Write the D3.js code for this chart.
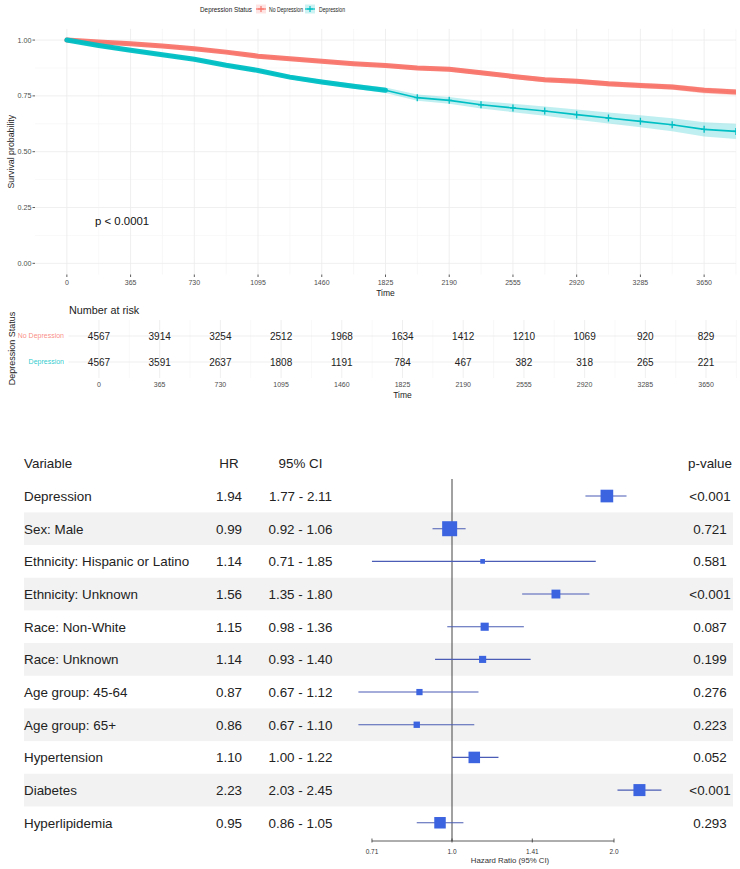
<!DOCTYPE html>
<html><head><meta charset="utf-8">
<script src="https://cdn.jsdelivr.net/npm/d3@7"></script>
<style>body{margin:0;background:#fff;} svg{display:block;font-family:"Liberation Sans",Arial,sans-serif;}</style>
</head><body><svg id="c" width="740" height="869"></svg>
<script>
// ---------- Kaplan-Meier data ----------
const groups = ["No Depression", "Depression"];
const groupColors = ["#F8766D", "#00BFC4"];
const times      = [0, 182, 365, 547, 730, 912, 1095, 1277, 1460, 1642, 1825, 2007, 2190, 2372, 2555, 2737, 2920, 3102, 3285, 3467, 3650, 3832];
const survNoDep  = [1.0, 0.991, 0.983, 0.973, 0.961, 0.946, 0.928, 0.916, 0.905, 0.894, 0.886, 0.875, 0.869, 0.854, 0.837, 0.822, 0.815, 0.804, 0.797, 0.790, 0.775, 0.767];
const lowerNoDep = [1.0, 0.988, 0.979, 0.968, 0.955, 0.940, 0.921, 0.909, 0.897, 0.886, 0.877, 0.866, 0.859, 0.844, 0.826, 0.811, 0.803, 0.792, 0.784, 0.777, 0.761, 0.753];
const upperNoDep = [1.0, 0.994, 0.986, 0.977, 0.966, 0.951, 0.934, 0.922, 0.912, 0.901, 0.894, 0.883, 0.878, 0.863, 0.847, 0.832, 0.826, 0.815, 0.809, 0.802, 0.788, 0.780];
const survDep    = [1.0, 0.976, 0.954, 0.934, 0.914, 0.887, 0.864, 0.834, 0.812, 0.793, 0.775, 0.742, 0.730, 0.710, 0.696, 0.682, 0.666, 0.651, 0.636, 0.621, 0.600, 0.591];
const lowerDep   = [1.0, 0.973, 0.950, 0.929, 0.908, 0.880, 0.856, 0.825, 0.802, 0.782, 0.763, 0.728, 0.715, 0.693, 0.677, 0.661, 0.643, 0.626, 0.609, 0.592, 0.568, 0.557];
const upperDep   = [1.0, 0.979, 0.958, 0.939, 0.920, 0.894, 0.872, 0.843, 0.822, 0.804, 0.787, 0.756, 0.745, 0.727, 0.715, 0.703, 0.689, 0.676, 0.663, 0.650, 0.632, 0.625];
const timeTicks  = [0, 365, 730, 1095, 1460, 1825, 2190, 2555, 2920, 3285, 3650];
const survTicks  = [0, 0.25, 0.5, 0.75, 1.0];
const survTickLabels = ["0.00", "0.25", "0.50", "0.75", "1.00"];
const riskNoDep  = [4567, 3914, 3254, 2512, 1968, 1634, 1412, 1210, 1069, 920, 829];
const riskDep    = [4567, 3591, 2637, 1808, 1191, 784, 467, 382, 318, 265, 221];
const pValueText = "p < 0.0001";

// ---------- Forest plot data ----------
const variables = ["Depression", "Sex: Male", "Ethnicity: Hispanic or Latino", "Ethnicity: Unknown", "Race: Non-White", "Race: Unknown", "Age group: 45-64", "Age group: 65+", "Hypertension", "Diabetes", "Hyperlipidemia"];
const hr      = [1.94, 0.99, 1.14, 1.56, 1.15, 1.14, 0.87, 0.86, 1.10, 2.23, 0.95];
const ciLow   = [1.77, 0.92, 0.71, 1.35, 0.98, 0.93, 0.67, 0.67, 1.00, 2.03, 0.86];
const ciHigh  = [2.11, 1.06, 1.85, 1.80, 1.36, 1.40, 1.12, 1.10, 1.22, 2.45, 1.05];
const pValues = ["<0.001", "0.721", "0.581", "<0.001", "0.087", "0.199", "0.276", "0.223", "0.052", "<0.001", "0.293"];
const hrTicks = [0.71, 1.0, 1.41, 2.0];
const hrTickLabels = ["0.71", "1.0", "1.41", "2.0"];

// ---------- setup ----------
const svg = d3.select("#c");
const kmSeries = [
  {name: groups[0], color: groupColors[0], surv: survNoDep, lo: lowerNoDep, hi: upperNoDep, denseUntil: 3900},
  {name: groups[1], color: groupColors[1], surv: survDep, lo: lowerDep, hi: upperDep, denseUntil: 1900}
];

const x = d3.scaleLinear().domain([-182.5, 3832.5]).range([35, 736]);
const y = d3.scaleLinear().domain([-0.05, 1.05]).range([274.5, 28.9]);
const gridMajor = "#ebebeb", gridMinor = "#f4f4f4";

// panel grid
const km = svg.append("g");
const halfStep = 182.5;
km.selectAll(".vmin").data(timeTicks).join("line")
  .attr("x1", d => x(d + halfStep)).attr("x2", d => x(d + halfStep))
  .attr("y1", y.range()[0]).attr("y2", y.range()[1]).attr("stroke", gridMinor).attr("stroke-width", 0.6);
km.selectAll(".hmin").data(survTicks.slice(0, 4)).join("line")
  .attr("y1", d => y(d + 0.125)).attr("y2", d => y(d + 0.125))
  .attr("x1", x.range()[0]).attr("x2", x.range()[1]).attr("stroke", gridMinor).attr("stroke-width", 0.6);
km.selectAll(".vmaj").data(timeTicks).join("line")
  .attr("x1", d => x(d)).attr("x2", d => x(d))
  .attr("y1", y.range()[0]).attr("y2", y.range()[1]).attr("stroke", gridMajor).attr("stroke-width", 0.8);
km.selectAll(".hmaj").data(survTicks).join("line")
  .attr("y1", d => y(d)).attr("y2", d => y(d))
  .attr("x1", x.range()[0]).attr("x2", x.range()[1]).attr("stroke", gridMajor).attr("stroke-width", 0.8);

// clip
svg.append("clipPath").attr("id", "kmclip").append("rect")
  .attr("x", x.range()[0]).attr("y", y.range()[1]).attr("width", x.range()[1] - x.range()[0]).attr("height", y.range()[0] - y.range()[1]);
const plot = km.append("g").attr("clip-path", "url(#kmclip)");

const area = d3.area().x(d => x(d.t)).y0(d => y(d.lo)).y1(d => y(d.hi));
const line = d3.line().x(d => x(d.t)).y(d => y(d.s));
kmSeries.forEach(s => {
  s.pts = times.map((t, i) => ({t, s: s.surv[i], lo: s.lo[i], hi: s.hi[i]}));
  plot.append("path").datum(s.pts).attr("d", area).attr("fill", s.color).attr("fill-opacity", 0.25);
});
kmSeries.forEach(s => {
  plot.append("path").datum(s.pts).attr("d", line).attr("fill", "none").attr("stroke", s.color).attr("stroke-width", 1.6);
  const dense = s.pts.filter(d => d.t <= s.denseUntil);
  plot.append("path").datum(dense).attr("d", line).attr("fill", "none").attr("stroke", s.color)
    .attr("stroke-width", 5).attr("stroke-linecap", "round").attr("stroke-opacity", 0.95);
  const sparse = s.pts.filter(d => d.t > s.denseUntil);
  plot.selectAll(null).data(sparse).join("path")
    .attr("transform", d => `translate(${x(d.t)},${y(d.s)})`)
    .attr("d", "M-3,0H3M0,-3.5V3.5").attr("stroke", s.color).attr("stroke-width", 1.3).attr("fill", "none");
});

// axes
const tickCol = "#4d4d4d";
km.selectAll(".yt").data(survTicks).join("line")
  .attr("x1", x.range()[0] - 2.5).attr("x2", x.range()[0]).attr("y1", d => y(d)).attr("y2", d => y(d))
  .attr("stroke", "#333").attr("stroke-width", 0.8);
km.selectAll(".ytl").data(survTicks).join("text")
  .attr("x", x.range()[0] - 3.5).attr("y", d => y(d) + 2.6).attr("text-anchor", "end")
  .attr("font-size", 7.2).attr("fill", tickCol).text((d, i) => survTickLabels[i]);
km.selectAll(".xt").data(timeTicks).join("line")
  .attr("x1", d => x(d)).attr("x2", d => x(d)).attr("y1", y.range()[0]).attr("y2", y.range()[0] + 2.5)
  .attr("stroke", "#333").attr("stroke-width", 0.8);
km.selectAll(".xtl").data(timeTicks).join("text")
  .attr("x", d => x(d)).attr("y", 285).attr("text-anchor", "middle")
  .attr("font-size", 7).attr("fill", tickCol).text(d => d);
km.append("text").attr("x", (x.range()[0] + x.range()[1]) / 2).attr("y", 296).attr("text-anchor", "middle")
  .attr("font-size", 8.5).attr("fill", "#222").text("Time");
km.append("text").attr("transform", `translate(13.5,${y(0.5)}) rotate(-90)`).attr("text-anchor", "middle")
  .attr("font-size", 8.8).attr("fill", "#222").text("Survival probability");
km.append("text").attr("x", 95).attr("y", 225).attr("font-size", 11.4).attr("fill", "#111").text(pValueText);

// legend
const leg = svg.append("g");
leg.append("text").attr("x", 200).attr("y", 12).attr("font-size", 8).attr("fill", "#222")
  .attr("textLength", 52).attr("lengthAdjust", "spacingAndGlyphs").text("Depression Status");
const legX = [256, 305], legTX = [269, 319], legTW = [34, 26];
groups.forEach((g, i) => {
  const c = groupColors[i];
  leg.append("rect").attr("x", legX[i]).attr("y", 4.5).attr("width", 10).attr("height", 9).attr("fill", c).attr("fill-opacity", 0.2);
  leg.append("line").attr("x1", legX[i]).attr("x2", legX[i] + 10).attr("y1", 9).attr("y2", 9).attr("stroke", c).attr("stroke-width", 1.2);
  leg.append("path").attr("transform", `translate(${legX[i] + 5},9)`).attr("d", "M-3,0H3M0,-3V3").attr("stroke", c).attr("stroke-width", 1.2);
  leg.append("text").attr("x", legTX[i]).attr("y", 11.5).attr("font-size", 6.6).attr("fill", "#222")
    .attr("textLength", legTW[i]).attr("lengthAdjust", "spacingAndGlyphs").text(g);
});

// ---------- risk table ----------
const xr = d3.scaleLinear().domain([-182.5, 3832.5]).range([68.6, 736.4]);
const rowRisk = d3.scalePoint().domain(groups).range([336, 362]);
const rt = svg.append("g");
const rtTop = 320, rtBot = 378;
rt.selectAll(".rvmin").data(timeTicks).join("line")
  .attr("x1", d => xr(d + halfStep)).attr("x2", d => xr(d + halfStep)).attr("y1", rtTop).attr("y2", rtBot)
  .attr("stroke", gridMinor).attr("stroke-width", 0.6);
rt.selectAll(".rvmaj").data(timeTicks).join("line")
  .attr("x1", d => xr(d)).attr("x2", d => xr(d)).attr("y1", rtTop).attr("y2", rtBot)
  .attr("stroke", gridMajor).attr("stroke-width", 0.8);
rt.selectAll(".rh").data(groups).join("line")
  .attr("x1", xr.range()[0]).attr("x2", xr.range()[1]).attr("y1", d => rowRisk(d)).attr("y2", d => rowRisk(d))
  .attr("stroke", gridMajor).attr("stroke-width", 0.8);
const riskRows = [riskNoDep, riskDep];
groups.forEach((g, gi) => {
  rt.selectAll(null).data(timeTicks).join("text")
    .attr("x", d => xr(d)).attr("y", rowRisk(g) + 3.6).attr("text-anchor", "middle")
    .attr("font-size", 10).attr("fill", "#222").text((d, i) => riskRows[gi][i]);
  rt.append("text").attr("x", 64).attr("y", rowRisk(g) + 2.4).attr("text-anchor", "end")
    .attr("font-size", 7).attr("fill", groupColors[gi]).attr("fill-opacity", 0.85).text(g);
});
rt.append("text").attr("x", 69).attr("y", 314).attr("font-size", 10.8).attr("fill", "#222").text("Number at risk");
rt.selectAll(".rtl").data(timeTicks).join("text")
  .attr("x", d => xr(d)).attr("y", 387).attr("text-anchor", "middle")
  .attr("font-size", 7).attr("fill", tickCol).text(d => d);
rt.append("text").attr("x", (xr.range()[0] + xr.range()[1]) / 2).attr("y", 398).attr("text-anchor", "middle")
  .attr("font-size", 8.5).attr("fill", "#222").text("Time");
rt.append("text").attr("transform", "translate(15,348.5) rotate(-90)").attr("text-anchor", "middle")
  .attr("font-size", 9).attr("fill", "#222").text("Depression Status");

// ---------- forest plot ----------
const fp = svg.append("g");
const rowBand = d3.scaleBand().domain(variables).range([479.7, 839.1]);
const bw = rowBand.bandwidth();
const fx = d3.scaleLog().base(2).domain([0.5, 2]).range([290, 614]);
const fs = 13.4;
const colHR = 229, colCI = 300.5, colP = 710;

fp.selectAll(".band").data(variables.filter((d, i) => i % 2 === 1)).join("rect")
  .attr("x", 24).attr("width", 709).attr("y", d => rowBand(d)).attr("height", bw).attr("fill", "#f2f2f2");

const headY = rowBand(variables[0]) - bw / 2 + 4.8;
fp.append("text").attr("x", 24).attr("y", headY).attr("font-size", fs).attr("fill", "#222").text("Variable");
fp.append("text").attr("x", colHR).attr("y", headY).attr("text-anchor", "middle").attr("font-size", fs).attr("fill", "#222").text("HR");
fp.append("text").attr("x", colCI).attr("y", headY).attr("text-anchor", "middle").attr("font-size", fs).attr("fill", "#222").text("95% CI");
fp.append("text").attr("x", colP).attr("y", headY).attr("text-anchor", "middle").attr("font-size", fs).attr("fill", "#222").text("p-value");

const rows = variables.map((v, i) => ({v, hr: hr[i], lo: ciLow[i], hi: ciHigh[i], p: pValues[i],
  prec: 1 / (Math.log(ciHigh[i]) - Math.log(ciLow[i]))}));
const sz = d3.scaleLinear().domain(d3.extent(rows, d => d.prec)).range([4.7, 15]);
const cy = d => rowBand(d.v) + bw / 2;

fp.selectAll(".tv").data(rows).join("text").attr("x", 24).attr("y", d => cy(d) + 4.8)
  .attr("font-size", fs).attr("fill", "#222").text(d => d.v);
fp.selectAll(".th").data(rows).join("text").attr("x", colHR).attr("y", d => cy(d) + 4.8).attr("text-anchor", "middle")
  .attr("font-size", fs).attr("fill", "#222").text(d => d.hr.toFixed(2));
fp.selectAll(".tc").data(rows).join("text").attr("x", colCI).attr("y", d => cy(d) + 4.8).attr("text-anchor", "middle")
  .attr("font-size", fs).attr("fill", "#222").text(d => d.lo.toFixed(2) + " - " + d.hi.toFixed(2));
fp.selectAll(".tp").data(rows).join("text").attr("x", colP).attr("y", d => cy(d) + 4.8).attr("text-anchor", "middle")
  .attr("font-size", fs).attr("fill", "#222").text(d => d.p);

// reference line
fp.append("line").attr("x1", fx(1)).attr("x2", fx(1)).attr("y1", 479).attr("y2", 841)
  .attr("stroke", "#444").attr("stroke-width", 1);
// CIs
fp.selectAll(".ci").data(rows).join("line")
  .attr("x1", d => fx(d.lo)).attr("x2", d => fx(d.hi)).attr("y1", cy).attr("y2", cy)
  .attr("stroke", "#4a5cb5").attr("stroke-width", 1.1);
fp.selectAll(".sq").data(rows).join("rect")
  .attr("x", d => fx(d.hr) - sz(d.prec) / 2).attr("y", d => cy(d) - sz(d.prec) / 2)
  .attr("width", d => sz(d.prec)).attr("height", d => sz(d.prec)).attr("fill", "#3c64e0");

// axis
const axY = 841;
fp.append("line").attr("x1", fx(hrTicks[0])).attr("x2", fx(hrTicks[hrTicks.length - 1])).attr("y1", axY).attr("y2", axY)
  .attr("stroke", "#333").attr("stroke-width", 0.8);
fp.selectAll(".at").data(hrTicks).join("line").attr("x1", d => fx(d)).attr("x2", d => fx(d))
  .attr("y1", axY - 2.5).attr("y2", axY + 1.5).attr("stroke", "#333").attr("stroke-width", 0.8);
fp.selectAll(".atl").data(hrTicks).join("text").attr("x", d => fx(d)).attr("y", 854).attr("text-anchor", "middle")
  .attr("font-size", 6.5).attr("fill", "#333").text((d, i) => hrTickLabels[i]);
fp.append("text").attr("x", 510).attr("y", 863).attr("text-anchor", "middle").attr("font-size", 7.8)
  .attr("fill", "#333").text("Hazard Ratio (95% CI)");
</script></body></html>
